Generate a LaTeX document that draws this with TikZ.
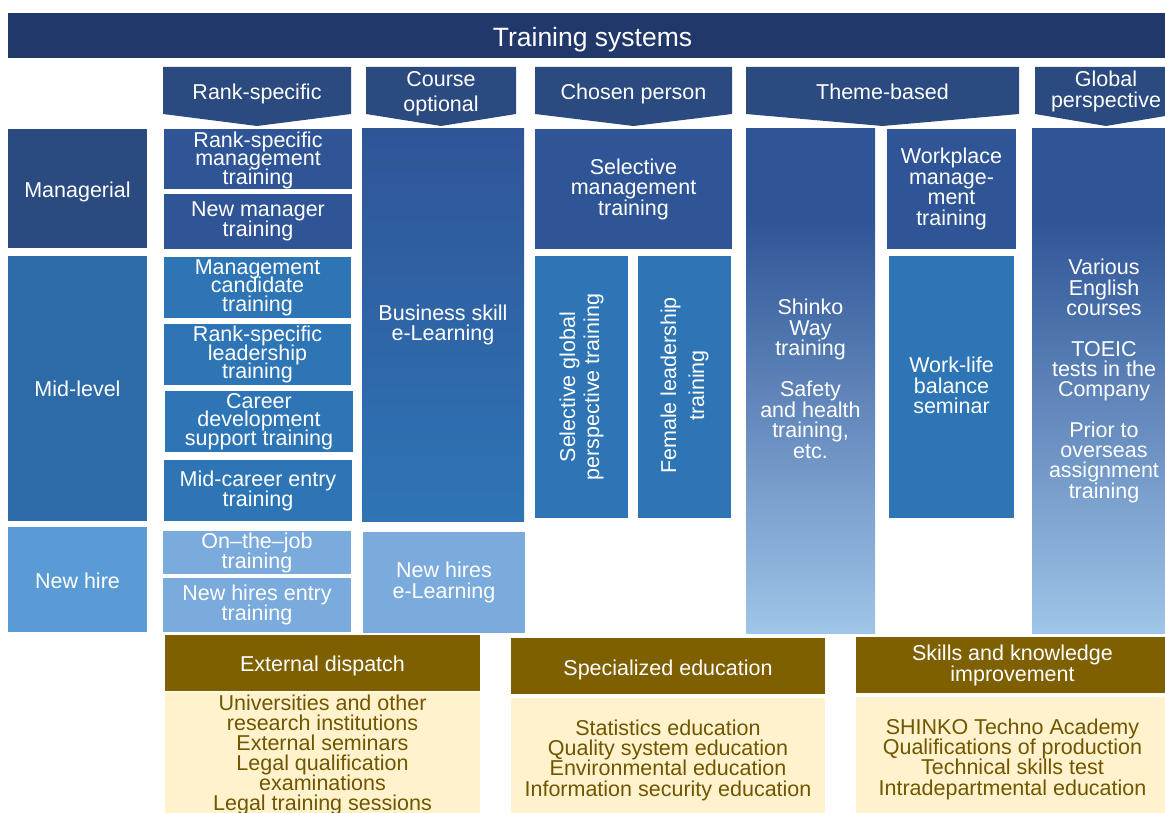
\documentclass[tikz,border=0pt]{standalone}
\usepackage{fontspec}
\setmainfont{Liberation Sans}
\definecolor{titlec}{HTML}{21386A}
\definecolor{hdrc}{HTML}{2A4A80}
\definecolor{cdark}{HTML}{2F5597}
\definecolor{cmid}{HTML}{2E75B6}
\definecolor{midl}{HTML}{2C6BA8}
\definecolor{clab}{HTML}{5B9BD5}
\definecolor{clight}{HTML}{7BAADC}
\definecolor{gLight}{HTML}{9FC5E8}
\definecolor{gold}{HTML}{7F6000}
\definecolor{cream}{HTML}{FFF2CC}
\definecolor{brownt}{HTML}{715600}
\pgfdeclareverticalshading{themegrad}{100bp}{color(0bp)=(gLight); color(25bp)=(gLight); color(66bp)=(cdark); color(100bp)=(cdark)}
\newcommand{\tightls}{\lineskiplimit -100pt\relax}
\tikzset{
  fs/.style={font={\fontsize{21.5pt}{#1 pt}\selectfont\tightls}},
  box/.style={rectangle, draw=none, inner sep=0pt},
  txt/.style={inner sep=0pt, text=white, align=center, fs=20.3},
  hdrfill/.style={fill=hdrc},
  body/.style={fill=cream},
  btxt/.style={text=brownt},
}
% name, x1, y1, x2, y2, box style, text style, text
\newcommand{\bx}[8]{%
  \pgfmathsetmacro\bxw{#4-#2}\pgfmathsetmacro\bxh{#5-#3}%
  \pgfmathsetmacro\bxcx{(#2+#4)/2}\pgfmathsetmacro\bxcy{(#3+#5)/2}%
  \node[box,minimum width=\bxw pt,minimum height=\bxh pt,#6] (#1) at (\bxcx,\bxcy) {};
  \node[txt,#7] (#1t) at (#1.center) {#8};}
\newcommand{\hdr}[5]{%
  \pgfmathsetmacro\hdcx{(#2+#3)/2}%
  \fill[hdrfill] (#2,67) -- (#3,67) -- (#3,114) -- (\hdcx,126) -- (#2,114) -- cycle;
  \node[txt,#5] (#1) at (\hdcx,90.5) {#4};}
\begin{document}
\begin{tikzpicture}[x=1pt,y=-1pt]
\useasboundingbox (0,0) rectangle (1165,813);
\clip (0,0) rectangle (1165,813);
% title
\bx{title}{8}{13}{1177}{58}{fill=titlec}{font={\fontsize{26.5pt}{30pt}\selectfont},yshift=-4pt}{Training systems}
% column headers
\hdr{hRank}{163}{351}{Rank-specific}{yshift=-3pt}
\hdr{hCourse}{366}{516}{Course\\optional}{fs=25,yshift=-3pt}
\hdr{hChosen}{535}{732}{Chosen person}{yshift=-3pt}
\hdr{hTheme}{746}{1019}{Theme-based}{yshift=-1pt}
\hdr{hGlobal}{1035}{1177}{Global\\perspective}{fs=21,yshift=-0.5pt}
% row labels
\bx{rMan}{8}{129}{147}{248}{fill=hdrc}{yshift=-3pt}{Managerial}
\bx{rMid}{8}{256}{147}{521}{fill=midl}{}{Mid-level}
\bx{rNew}{8}{527}{147}{632}{fill=clab}{yshift=-1pt}{New hire}
% rank-specific column
\bx{k1}{164}{129}{352}{189}{fill=cdark}{fs=18.5,yshift=-1pt}{Rank-specific\\management\\training}
\bx{k2}{164}{194}{352}{249}{fill=cdark}{fs=19.5}{New manager\\training}
\bx{k3}{164}{257}{351}{318}{fill=cmid}{fs=18.5}{Management\\candidate\\training}
\bx{k4}{164}{324}{351}{385}{fill=cmid}{fs=18.5}{Rank-specific\\leadership\\training}
\bx{k5}{165}{391}{353}{452}{fill=cmid}{fs=18.5}{Career\\development\\support training}
\bx{k6}{164}{460}{352}{521}{fill=cmid}{fs=20}{Mid-career entry\\training}
\bx{k7}{163}{531}{351}{574}{fill=clight}{fs=20}{On--the--job\\training}
\bx{k8}{163}{578}{351}{632}{fill=clight}{fs=20}{New hires entry\\training}
% course optional column
\bx{c1}{362}{129}{524}{521}{top color=cdark,bottom color=cmid}{fs=20}{Business skill\\e-Learning}
\bx{c2}{363}{532}{525}{633}{fill=clight}{fs=21}{New hires\\e-Learning}
% chosen person column
\bx{p1}{535}{129}{732}{249}{fill=cdark}{fs=20.5}{Selective\\management\\training}
\bx{p2}{535}{256}{628}{518}{fill=cmid}{rotate=90,fs=24}{Selective global\\perspective training}
\bx{p3}{638}{256}{731}{518}{fill=cmid}{rotate=90,fs=28,xshift=1.5pt}{Female leadership\\training}
% theme-based column
\bx{t1}{746}{129}{875}{633}{shade,shading=themegrad}{fs=20.5,yshift=2pt}{Shinko\\Way\\training\\[20.5pt]Safety\\and health\\training,\\etc.}
\bx{t2}{887}{129}{1016}{249}{fill=cdark}{fs=20.5}{Workplace\\manage-\\ment\\training}
\bx{t3}{889}{256}{1014}{518}{fill=cmid}{fs=20.5,yshift=1.5pt}{Work-life\\balance\\seminar}
% global perspective column
\bx{g1}{1032}{129}{1176}{633}{shade,shading=themegrad}{fs=20.3}{Various\\English\\courses\\[20.3pt]TOEIC\\tests in the\\Company\\[20.3pt]Prior to\\overseas\\assignment\\training}
% bottom sections
\bx{eH}{165}{635}{480}{691}{fill=gold}{yshift=-3pt}{External dispatch}
\bx{eB}{165}{692}{480}{815}{body}{btxt,fs=20,yshift=-1.5pt}{Universities and other\\research institutions\\External seminars\\Legal qualification\\examinations\\Legal training sessions}
\bx{sH}{511}{638}{825}{694}{fill=gold}{yshift=-4pt}{Specialized education}
\bx{sB}{511}{698}{825}{817}{body}{btxt,fs=20.3,yshift=-2.5pt}{Statistics education\\Quality system education\\Environmental education\\Information security education}
\bx{kH}{856}{637}{1169}{693}{fill=gold}{fs=21}{Skills and knowledge\\improvement}
\bx{kB}{856}{697}{1169}{816}{body}{btxt,fs=20.3,yshift=-2.5pt}{SHINKO Techno Academy\\Qualifications of production\\Technical skills test\\Intradepartmental education}
\end{tikzpicture}
\end{document}
